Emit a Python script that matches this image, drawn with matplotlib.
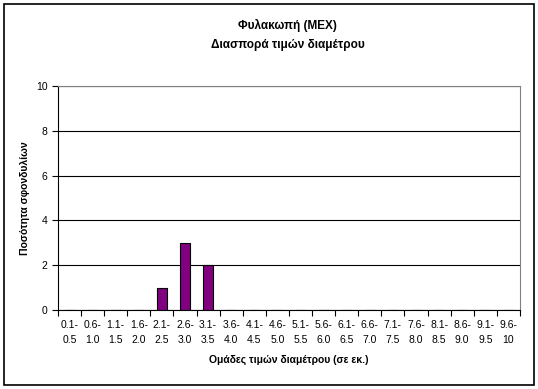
import matplotlib
matplotlib.use('Agg')
import matplotlib.pyplot as plt
import matplotlib.patches as mpatches
import numpy as np

plt.rcParams['font.family'] = ['Liberation Sans', 'DejaVu Sans']

categories = ['0.1-\n0.5', '0.6-\n1.0', '1.1-\n1.5', '1.6-\n2.0', '2.1-\n2.5',
              '2.6-\n3.0', '3.1-\n3.5', '3.6-\n4.0', '4.1-\n4.5', '4.6-\n5.0',
              '5.1-\n5.5', '5.6-\n6.0', '6.1-\n6.5', '6.6-\n7.0', '7.1-\n7.5',
              '7.6-\n8.0', '8.1-\n8.5', '8.6-\n9.0', '9.1-\n9.5', '9.6-\n10']
counts = [0, 0, 0, 0, 1, 3, 2, 0, 0, 0, 0, 0, 0, 0, 0, 0, 0, 0, 0, 0]

fig = plt.figure(figsize=(5.38, 3.89), dpi=100)
ax = fig.add_axes([0.1078, 0.2031, 0.8587, 0.5758])

x = np.arange(len(categories))
ax.bar(x, counts, width=0.43, color='#800080', edgecolor='black', linewidth=0.8, zorder=3)

ax.set_xlim(-0.5, len(categories) - 0.5)
ax.set_ylim(0, 10)
ax.set_yticks([0, 2, 4, 6, 8, 10])
ax.yaxis.grid(True, color='black', linewidth=0.8)
ax.set_axisbelow(True)

# ticks at category boundaries, labels centered
ax.set_xticks(np.arange(-0.5, len(categories) + 0.5, 1))
ax.set_xticklabels([])
ax.set_xticks(x, minor=True)
ax.set_xticklabels(categories, minor=True, fontsize=7.5, linespacing=1.7)
ax.tick_params(axis='x', which='minor', length=0, pad=7)
ax.tick_params(axis='x', which='major', length=4, direction='out', width=0.8)
ax.tick_params(axis='y', length=4, width=0.8, labelsize=7.5)

ax.spines['top'].set_color('#808080')
ax.spines['right'].set_color('#808080')
for s in ['left', 'bottom']:
    ax.spines[s].set_linewidth(0.8)

ax.set_ylabel('Ποσότητα σφονδυλίων', fontsize=7.5, fontweight='bold', labelpad=4)
ax.set_xlabel('Ομάδες τιμών διαμέτρου (σε εκ.)', fontsize=7.5, fontweight='bold', labelpad=7)

fig.text(0.535, 0.935, 'Φυλακωπή (MEX)', ha='center', va='center', fontsize=8.5, fontweight='bold')
fig.text(0.535, 0.884, 'Διασπορά τιμών διαμέτρου', ha='center', va='center', fontsize=8.5, fontweight='bold')

border = mpatches.Rectangle((4 / 538, 4 / 389), 530 / 538, 381 / 389, transform=fig.transFigure,
                            fill=False, edgecolor='black', linewidth=1.2)
fig.patches.append(border)

fig.savefig('out.png', dpi=100)
